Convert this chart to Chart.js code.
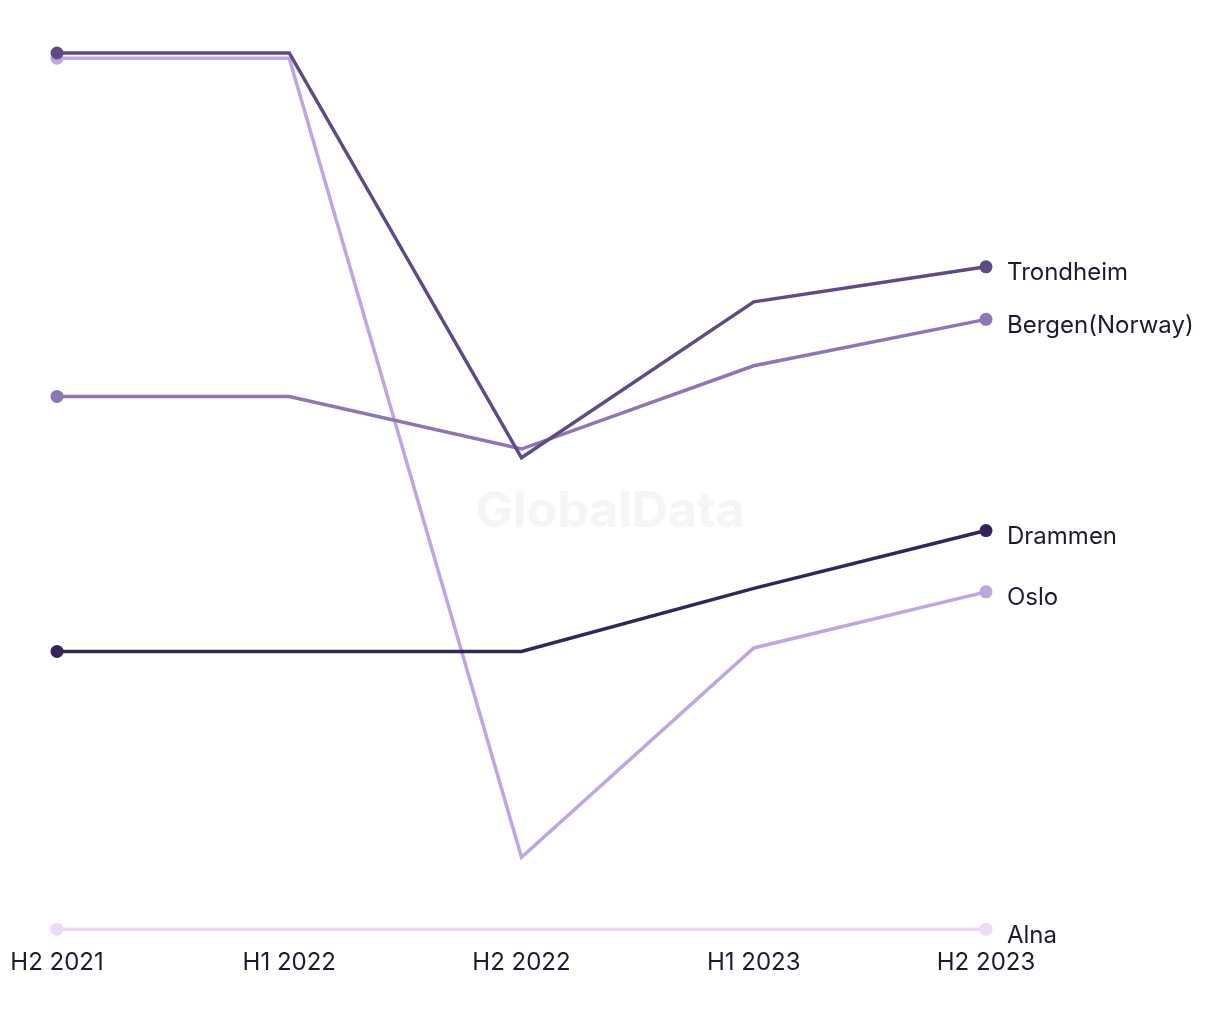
<!DOCTYPE html>
<html>
<head>
<meta charset="utf-8">
<script src="https://cdn.jsdelivr.net/npm/chart.js@4/dist/chart.umd.min.js"></script>
<style>
  html, body { margin: 0; padding: 0; background: #ffffff; }
  #wrap { position: relative; width: 1220px; height: 1020px; }
</style>
</head>
<body>
<div id="wrap"><canvas id="chart" width="1220" height="1020"></canvas></div>
<script>
// ==================== DATA ====================
const periods = ['H2 2021', 'H1 2022', 'H2 2022', 'H1 2023', 'H2 2023'];

const trondheim = [100, 100, 53.8, 71.6, 75.6];
const bergen    = [60.8, 60.8, 54.8, 64.3, 69.6];
const drammen   = [31.7, 31.7, 31.7, 38.9, 45.5];
const oslo      = [99.4, 99.4, 8.2, 32.1, 38.5];
const alna      = [0, 0, 0, 0, 0];

// first dataset is drawn on top in Chart.js
const seriesNames  = ['Trondheim', 'Bergen(Norway)', 'Drammen', 'Oslo', 'Alna'];
const seriesValues = [trondheim, bergen, drammen, oslo, alna];
const seriesColors = ['#5f4a87', '#8e76b4', '#35245a', '#c0a6e1', '#f0d8f8'];

const FONT = "Inter, 'Liberation Sans', sans-serif";

// only first and last points get a marker
const endPoints = ctx => (ctx.dataIndex === 0 || ctx.dataIndex === periods.length - 1) ? 6.5 : 0;

// ==================== PLUGINS ====================
const endLabels = {
  id: 'endLabels',
  afterDatasetsDraw(chart) {
    const { ctx } = chart;
    ctx.save();
    ctx.font = '24px ' + FONT;
    ctx.fillStyle = '#1c1b2e';
    ctx.textBaseline = 'middle';
    ctx.textAlign = 'left';
    chart.data.datasets.forEach((ds, i) => {
      const meta = chart.getDatasetMeta(i);
      const pt = meta.data[meta.data.length - 1];
      const dy = ds.label === 'Alna' ? 7 : 6;
      ctx.fillText(ds.label, pt.x + 21, pt.y + dy);
    });
    ctx.restore();
  }
};

const watermark = {
  id: 'watermark',
  beforeDatasetsDraw(chart) {
    const { ctx } = chart;
    ctx.save();
    ctx.font = 'bold 50px ' + FONT;
    ctx.fillStyle = '#f5f5f5';
    ctx.textAlign = 'center';
    ctx.textBaseline = 'middle';
    ctx.fillText('GlobalData', 610, 512);
    ctx.restore();
  }
};

// ==================== CHART ====================
new Chart(document.getElementById('chart').getContext('2d'), {
  type: 'line',
  data: {
    labels: periods,
    datasets: seriesNames.map((name, i) => ({
      label: name,
      data: seriesValues[i],
      borderColor: seriesColors[i],
      backgroundColor: seriesColors[i],
      borderWidth: 3.5,
      pointRadius: endPoints,
      pointHoverRadius: endPoints,
      pointBorderWidth: 0,
      tension: 0,
      clip: false
    }))
  },
  options: {
    responsive: false,
    animation: false,
    layout: { padding: { left: 57, right: 234, top: 53, bottom: 24 } },
    scales: {
      x: {
        offset: false,
        grid: { display: false, drawTicks: false, tickLength: 0 },
        border: { display: false },
        ticks: {
          font: { family: FONT, size: 24 },
          color: '#1c1b2e',
          padding: 19,
          maxRotation: 0,
          autoSkip: false
        },
        // edge labels may overhang the plot, don't let them shrink it
        afterFit(scale) {
          scale.paddingLeft = 0;
          scale.paddingRight = 0;
        }
      },
      y: { display: false, min: 0, max: 100 }
    },
    plugins: {
      legend: { display: false },
      tooltip: { enabled: false }
    }
  },
  plugins: [watermark, endLabels]
});
</script>
</body>
</html>
